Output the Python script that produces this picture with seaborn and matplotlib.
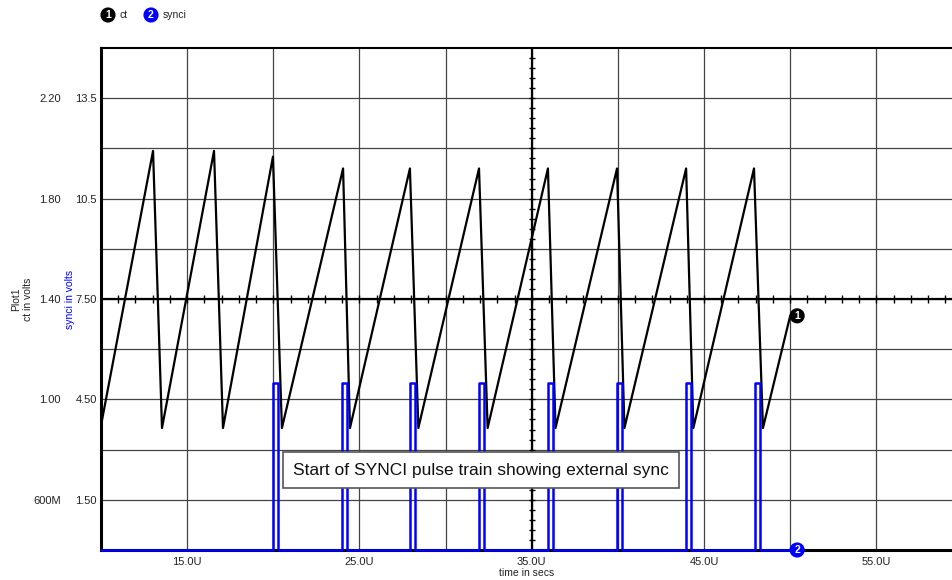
import numpy
import pandas
import seaborn
import matplotlib
matplotlib.use('Agg')
import matplotlib.pyplot as plot

# ct sawtooth vertices (time in U, volts)
ct_time = [10.0, 13.02, 13.54, 16.56, 17.08, 19.98, 20.5, 24.05, 24.45, 27.93, 28.42,
           31.94, 32.44, 35.94, 36.38, 39.95, 40.38, 43.96, 44.38, 47.9, 48.42, 50.0]
ct_volts = [0.896, 1.99, 0.886, 1.99, 0.886, 1.967, 0.886, 1.92, 0.886, 1.92, 0.886,
            1.92, 0.886, 1.92, 0.886, 1.92, 0.886, 1.92, 0.886, 1.92, 0.886, 1.333]

# synci pulse train
sync_start = [20.0, 23.98, 27.92, 31.94, 35.96, 39.95, 43.94, 47.94]
sync_width = 0.3
sync_high = 5.0
sync_begin, sync_end = 10.0, 50.0

ct_ticks = [0.6, 1.0, 1.4, 1.8, 2.2]
ct_labels = ['600M', '1.00', '1.40', '1.80', '2.20']
sync_ticks = [1.5, 4.5, 7.5, 10.5, 13.5]
sync_labels = ['1.50', '4.50', '7.50', '10.5', '13.5']
x_ticks = [15, 25, 35, 45, 55]
x_labels = ['15.0U', '25.0U', '35.0U', '45.0U', '55.0U']

sync_t, sync_v = [sync_begin], [0.0]
for s in sync_start:
    sync_t += [s, s, s + sync_width, s + sync_width]
    sync_v += [0.0, sync_high, sync_high, 0.0]
sync_t.append(sync_end)
sync_v.append(0.0)

df_ct = pandas.DataFrame({'time': ct_time, 'ct': ct_volts})
df_sync = pandas.DataFrame({'time': sync_t, 'synci': sync_v})

seaborn.set_style('white')
plot.rcParams['font.family'] = ['Liberation Sans', 'DejaVu Sans']

fig = plot.figure(figsize=(9.53, 5.8), dpi=100)
ax = fig.add_axes([101 / 953, 30 / 580, 852 / 953, 502 / 580])
ax2 = ax.twinx()

grid_col = '#444444'
ax.set_xlim(10, 59.45)
ax.set_ylim(0.4, 2.4)
ax2.set_ylim(0, 15)

ax.set_xticks(x_ticks, x_labels)
ax.set_xticks(numpy.arange(10, 60, 10), minor=True)
ax.set_yticks(ct_ticks, ct_labels)
ax.set_yticks([0.8, 1.2, 1.6, 2.0], minor=True)
ax.grid(True, which='both', color=grid_col, lw=0.9)
ax.tick_params(axis='both', which='both', length=0, labelsize=8, colors='#222222')
ax.tick_params(axis='y', pad=29)
ax.tick_params(axis='x', pad=5)

ax2.set_yticks(sync_ticks, sync_labels)
ax2.yaxis.tick_left()
ax2.yaxis.set_label_position('left')
ax2.tick_params(axis='y', length=0, labelsize=8, pad=3, colors='#222222')
for sp in ax2.spines.values():
    sp.set_visible(False)

for side in ['left', 'bottom']:
    ax.spines[side].set_linewidth(2.2)
    ax.spines[side].set_color('black')
ax.spines['top'].set_linewidth(1.5)
ax.spines['top'].set_color('black')
ax.spines['right'].set_visible(False)

# crosshair axes with minor ticks
ax.axhline(1.4, color='black', lw=1.6, zorder=2)
ax.axvline(35, color='black', lw=1.6, zorder=2)
hx = numpy.arange(11, 60, 1)
ax.plot(hx, numpy.full(len(hx), 1.4), ls='none', marker='|', ms=5.5, mew=1, color='black', zorder=2)
vy = numpy.arange(0.44, 2.4, 0.04)
ax.plot(numpy.full(len(vy), 35), vy, ls='none', marker='_', ms=5, mew=1, color='black', zorder=2)

seaborn.lineplot(data=df_ct, x='time', y='ct', ax=ax, sort=False, estimator=None,
                 color='black', lw=1.6, legend=False, zorder=3)
seaborn.lineplot(data=df_sync, x='time', y='synci', ax=ax2, sort=False, estimator=None,
                 color='#0000ff', lw=1.8, legend=False, clip_on=False, zorder=4)

ax.set_xlabel('time in secs', fontsize=7.5, labelpad=1, color='#222222')
ax.set_ylabel('Plot1\nct in volts', fontsize=7.5, color='#222222', va='center', ha='center')
ax.yaxis.set_label_coords(-0.093, 0.5)
ax2.set_ylabel('synci in volts', fontsize=7.5, color='#0000ff', va='center', ha='center')
ax2.yaxis.set_label_coords(-0.036, 0.5)

marker_style = dict(ha='center', va='center', color='white', fontsize=7.5, fontweight='bold')

# end markers
ax.annotate('1', xy=(ct_time[-1], ct_volts[-1]), xytext=(5, 0), textcoords='offset points',
            bbox=dict(boxstyle='circle,pad=0.18', fc='black', ec='black'), zorder=6, **marker_style)
ax2.annotate('2', xy=(sync_end, 0), xytext=(5, 0), textcoords='offset points',
             bbox=dict(boxstyle='circle,pad=0.18', fc='#0000ff', ec='#0000ff'),
             annotation_clip=False, zorder=6, **marker_style)

# note box
ax2.text(32.05, 2.38, 'Start of SYNCI pulse train showing external sync', fontsize=12.5,
         ha='center', va='center', color='#111111', zorder=7,
         bbox=dict(boxstyle='square,pad=0.6', fc='white', ec='#555555', lw=1.2))

# legend
fig.text(108 / 953, 1 - 15 / 580, '1', bbox=dict(boxstyle='circle,pad=0.18', fc='black', ec='black'),
         **marker_style)
fig.text(120 / 953, 1 - 15 / 580, 'ct', ha='left', va='center', fontsize=7.5, color='#222222')
fig.text(151 / 953, 1 - 15 / 580, '2', bbox=dict(boxstyle='circle,pad=0.18', fc='#0000ff', ec='#0000ff'),
         **marker_style)
fig.text(163 / 953, 1 - 15 / 580, 'synci', ha='left', va='center', fontsize=7.5, color='#222222')

fig.savefig('out.png', dpi=100)
